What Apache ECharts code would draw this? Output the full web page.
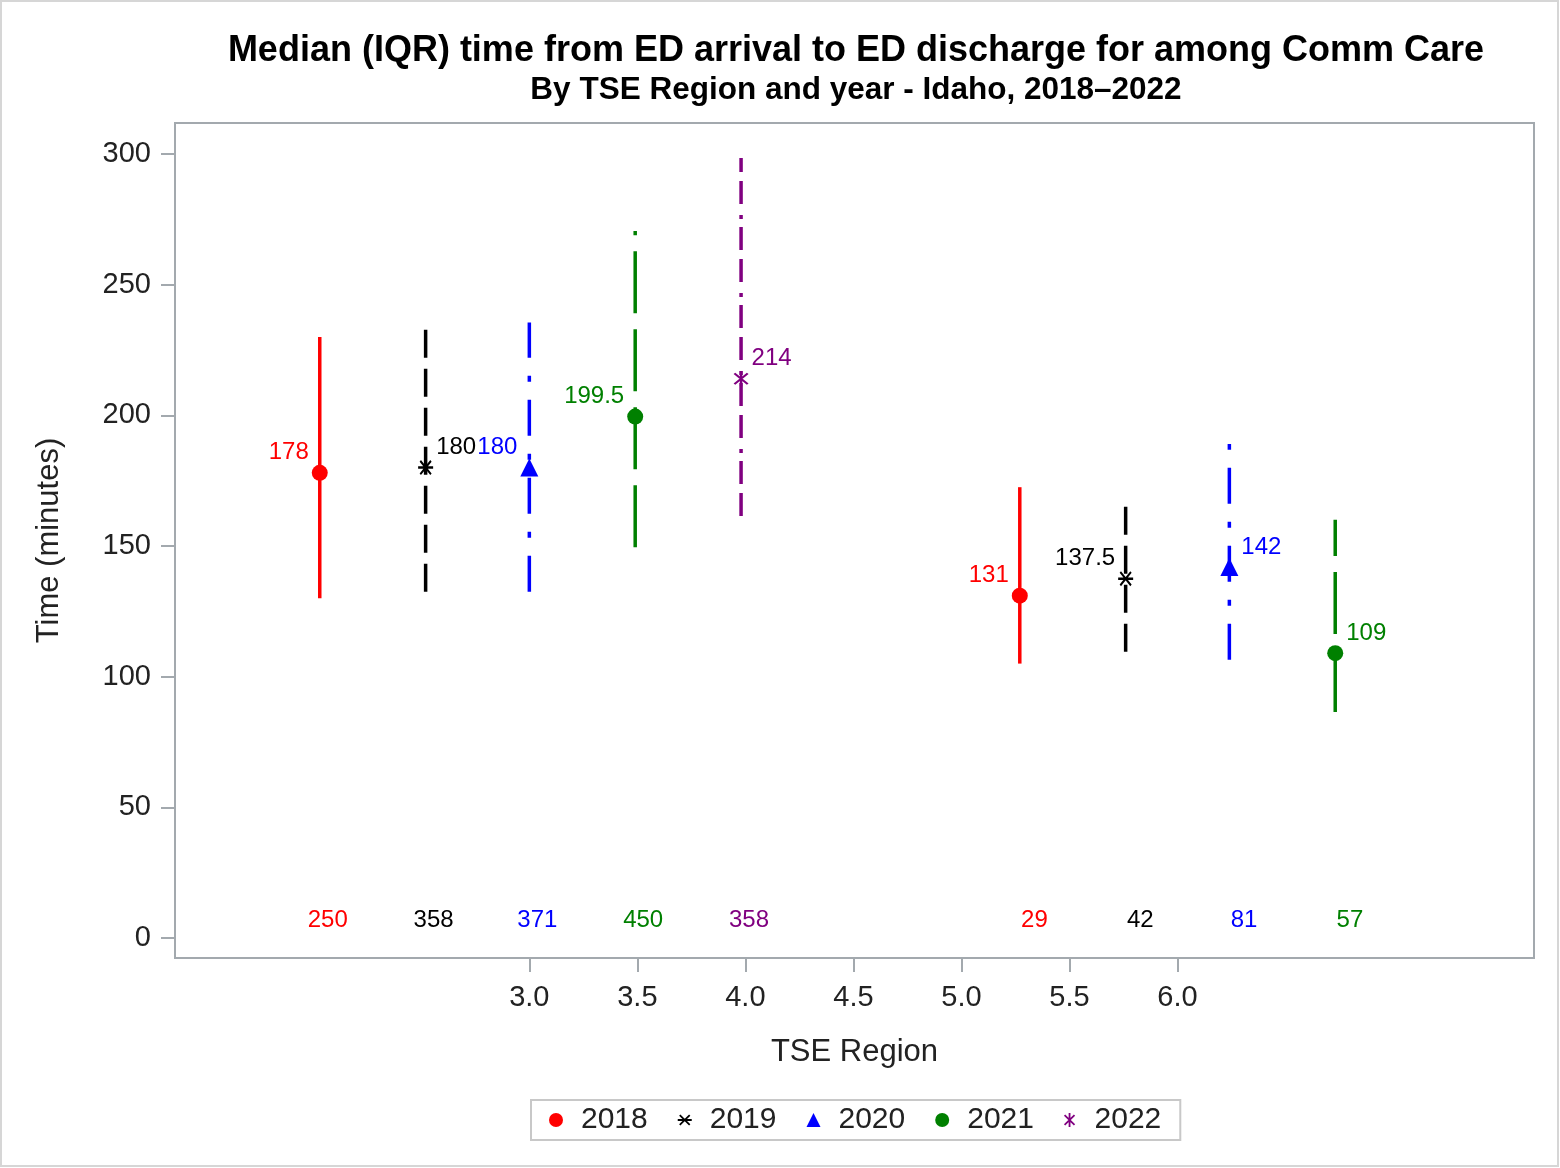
<!DOCTYPE html>
<html><head><meta charset="utf-8">
<script src="https://cdn.jsdelivr.net/npm/echarts@6/dist/echarts.min.js"></script>
<style>html,body{margin:0;padding:0;background:#fff}#c{width:1560px;height:1168px}</style>
</head><body><div id="c"></div>
<script>
// ---------------- data ----------------
const years = ['2018', '2019', '2020', '2021', '2022'];
// x position (TSE Region axis units) of each year's mark, one entry per region cluster
const xPositions = [[2.03, 5.27], [2.52, 5.76], [3.00, 6.24], [3.49, 6.73], [3.98]];
const medians    = [[178, 131], [180, 137.5], [180, 142], [199.5, 109], [214]];
const q1Values   = [[130, 105], [132.5, 109.5], [132.5, 106.5], [149.5, 86.5], [161.5]];
const q3Values   = [[230, 172.5], [234.5, 167.5], [235.5, 189], [270.5, 160], [298.5]];
const counts     = [[250, 29], [358, 42], [371, 81], [450, 57], [358]];
const xTicks = [3.0, 3.5, 4.0, 4.5, 5.0, 5.5, 6.0];
const yTicks = [0, 50, 100, 150, 200, 250, 300];

// ---------------- styling ----------------
const FONT = '"Liberation Sans", Arial, sans-serif';
const colors = ['#ff0000', '#000000', '#0000ff', '#008000', '#800080'];
const dashes = [null, [28, 11], [36, 18, 6, 18], [62, 16], [23, 9, 23, 8, 4, 11]];
const AST_H = 'path://M0 43.5H100V56.5H0Z M10 19L19 10L90 81L81 90Z M81 10L90 19L19 90L10 81Z';
const AST_V = 'path://M43.5 0H56.5V100H43.5Z M10 19L19 10L90 81L81 90Z M81 10L90 19L19 90L10 81Z';
const symbols = ['circle', AST_H, 'triangle', 'circle', AST_V];
const symbolSizes = [16, 15, 18, 16, 15];
const labelSides = [['left', 'left'], ['right', 'left'], ['left', 'right'], ['left', 'right'], ['right']];
const AXIS_GRAY = '#a3a9ae';

const series = [];
years.forEach((yr, i) => {
  // IQR bars (drawn from Q1 up to Q3)
  series.push({
    type: 'custom',
    name: 'IQR ' + yr,
    z: 2,
    data: xPositions[i].map((x, j) => [x, q1Values[i][j], q3Values[i][j]]),
    encode: { x: 0, y: [1, 2] },
    renderItem: (params, api) => {
      const p0 = api.coord([api.value(0), api.value(1)]);
      const p1 = api.coord([api.value(0), api.value(2)]);
      return {
        type: 'line',
        shape: { x1: p0[0], y1: p0[1], x2: p1[0], y2: p1[1] },
        style: { stroke: colors[i], lineWidth: 3.5, lineDash: dashes[i] || null, lineCap: 'butt' }
      };
    }
  });
  // counts near the bottom of the plot
  series.push({
    type: 'custom',
    name: 'N ' + yr,
    z: 2,
    data: xPositions[i].map((x, j) => [x, counts[i][j]]),
    encode: { x: 0, y: 1 },
    renderItem: (params, api) => {
      const p = api.coord([api.value(0), 0]);
      return {
        type: 'text',
        x: p[0] + 28, y: p[1] - 18,
        style: { text: String(api.value(1)), fill: colors[i], font: '24px ' + FONT, align: 'right', verticalAlign: 'middle' }
      };
    }
  });
  // medians
  series.push({
    type: 'scatter',
    name: yr,
    z: 3,
    symbol: symbols[i],
    symbolSize: symbolSizes[i],
    itemStyle: { color: colors[i], opacity: 1 },
    data: xPositions[i].map((x, j) => ({
      value: [x, medians[i][j]],
      label: { position: labelSides[i][j] }
    })),
    label: {
      show: true, distance: 3, offset: [0, -20],
      color: colors[i], fontSize: 24, fontFamily: FONT,
      formatter: p => String(p.value[1])
    },
    emphasis: { disabled: true }
  });
});

const chart = echarts.init(document.getElementById('c'), null, { renderer: 'canvas' });
chart.setOption({
  animation: false,
  backgroundColor: '#ffffff',
  title: [
    { text: 'Median (IQR) time from ED arrival to ED discharge for among Comm Care',
      left: 856, top: 33, textAlign: 'center', padding: 0,
      textStyle: { fontSize: 36, fontWeight: 'bold', fontFamily: FONT, color: '#000' } },
    { text: 'By TSE Region and year - Idaho, 2018\u20132022',
      left: 856, top: 74, textAlign: 'center', padding: 0,
      textStyle: { fontSize: 31.5, fontWeight: 'bold', fontFamily: FONT, color: '#000' } }
  ],
  graphic: [{ type: 'rect', shape: { x: 1, y: 1, width: 1557, height: 1165 },
              style: { fill: 'none', stroke: '#d6d6d6', lineWidth: 2 }, silent: true }],
  grid: { left: 175, right: 26, top: 123, bottom: 210, show: true,
          borderColor: AXIS_GRAY, borderWidth: 2, backgroundColor: '#fff' },
  xAxis: {
    type: 'value', min: 1.36, max: 7.65,
    axisLine: { show: false, onZero: false },
    splitLine: { show: false },
    axisTick: { show: true, length: 14, customValues: xTicks, lineStyle: { color: AXIS_GRAY, width: 2 } },
    axisLabel: { customValues: xTicks, formatter: v => Number(v).toFixed(1), fontSize: 29,
                 fontFamily: FONT, color: '#222', margin: 25 },
    name: 'TSE Region', nameLocation: 'middle', nameGap: 79,
    nameTextStyle: { fontSize: 31, fontFamily: FONT, color: '#222' }
  },
  yAxis: {
    type: 'value', min: -7.65, max: 311.85,
    axisLine: { show: false, onZero: false },
    splitLine: { show: false },
    axisTick: { show: true, length: 14, customValues: yTicks, lineStyle: { color: AXIS_GRAY, width: 2 } },
    axisLabel: { customValues: yTicks, fontSize: 29, fontFamily: FONT, color: '#222', margin: 24 },
    name: 'Time (minutes)', nameLocation: 'middle', nameGap: 110,
    nameTextStyle: { fontSize: 31, fontFamily: FONT, color: '#222' }
  },
  legend: {
    left: 531, top: 1100, orient: 'horizontal',
    padding: [5, 19, 5, 18], itemWidth: 14, itemHeight: 14, itemGap: 30,
    borderColor: '#c8c8c8', borderWidth: 2, selectedMode: false,
    textStyle: { fontSize: 30, fontFamily: FONT, color: '#222', padding: [0, 0, 0, 13] },
    data: years.map((yr, i) => ({ name: yr, icon: symbols[i], itemStyle: { color: colors[i] } }))
  },
  series: series
});
</script></body></html>
